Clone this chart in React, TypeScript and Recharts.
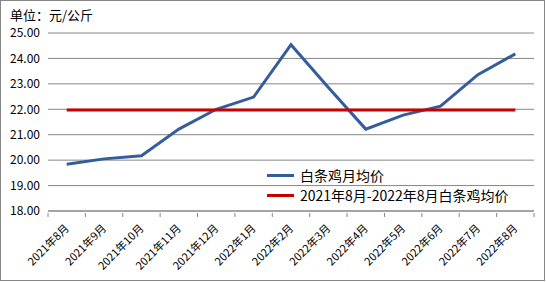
import { LineChart, Line, XAxis, YAxis, CartesianGrid } from "recharts";

// 白条鸡月均价（元/公斤），2021年8月—2022年8月
const months = [
  "2021年8月", "2021年9月", "2021年10月", "2021年11月", "2021年12月",
  "2022年1月", "2022年2月", "2022年3月", "2022年4月", "2022年5月",
  "2022年6月", "2022年7月", "2022年8月",
];
const monthlyPrice = [19.84, 20.05, 20.17, 21.22, 22.0, 22.48, 24.54, 22.86, 21.22, 21.77, 22.12, 23.36, 24.18];
const periodAvg = [21.97, 21.97, 21.97, 21.97, 21.97, 21.97, 21.97, 21.97, 21.97, 21.97, 21.97, 21.97, 21.97];
const yTicks = [18, 19, 20, 21, 22, 23, 24, 25];

const FONT = "'Noto Sans CJK SC', 'Noto Sans', sans-serif";
const BLUE = "#355c9d";
const RED = "#c80000";
const GRID = "#868686";

const data = months.map((m, i) => ({ month: m, price: monthlyPrice[i], avg: periodAvg[i] }));

function MonthTick(props: any) {
  const { x, y, payload, index } = props;
  const half = payload?.offset || 18.7;
  const ax = x + 3;
  const ay = y + 16;
  return (
    <g>
      <line x1={x - half} y1={y} x2={x - half} y2={y + 4} stroke={GRID} />
      {index === months.length - 1 && (
        <line x1={x + half} y1={y} x2={x + half} y2={y + 4} stroke={GRID} />
      )}
      <text
        x={ax}
        y={ay}
        textAnchor="end"
        fontSize={11}
        fill="#000"
        fontFamily={FONT}
        transform={`rotate(-45, ${ax}, ${ay})`}
      >
        {payload.value}
      </text>
    </g>
  );
}

// 图例放在绘图区内，不占布局空间
function LegendBox() {
  const rows = [
    { color: BLUE, label: "白条鸡月均价" },
    { color: RED, label: "2021年8月-2022年8月白条鸡均价" },
  ];
  return (
    <div
      style={{
        position: "absolute",
        left: 267,
        top: 165,
        fontFamily: FONT,
        fontSize: 14,
        color: "#000",
      }}
    >
      {rows.map((r) => (
        <div key={r.label} style={{ display: "flex", alignItems: "center", height: 20 }}>
          <span style={{ display: "inline-block", width: 27, height: 3, background: r.color, marginRight: 6 }} />
          <span style={{ whiteSpace: "nowrap" }}>{r.label}</span>
        </div>
      ))}
    </div>
  );
}

export default function App() {
  return (
    <div style={{ position: "relative", width: 546, height: 282, background: "#fff" }}>
      <style>{"body{margin:0}"}</style>
      <div
        style={{
          position: "absolute",
          left: 10,
          top: 5,
          fontFamily: FONT,
          fontSize: 13,
          color: "#000",
        }}
      >
        单位：元/公斤
      </div>
      <LineChart
        width={546}
        height={282}
        data={data}
        margin={{ top: 33, right: 12, bottom: 0, left: 0 }}
        style={{ position: "absolute", left: 0, top: 0 }}
      >
        <CartesianGrid vertical={false} stroke={GRID} />
        <XAxis
          dataKey="month"
          scale="band"
          interval={0}
          height={71}
          tickLine={false}
          tickSize={0}
          stroke={GRID}
          tick={<MonthTick />}
        />
        <YAxis
          domain={[18, 25]}
          ticks={yTicks}
          interval={0}
          width={48}
          axisLine={false}
          tickLine={false}
          tickSize={0}
          tickMargin={8}
          tickFormatter={(v: number) => v.toFixed(2)}
          tick={{ fontSize: 12, fill: "#000", fontFamily: FONT }}
        />
        <Line dataKey="price" stroke={BLUE} strokeWidth={3} dot={false} isAnimationActive={false} />
        <Line dataKey="avg" stroke={RED} strokeWidth={3} dot={false} isAnimationActive={false} />
      </LineChart>
      <LegendBox />
      <div
        style={{
          position: "absolute",
          left: 0,
          top: 0,
          width: 545,
          height: 281,
          boxSizing: "border-box",
          border: `1px solid ${GRID}`,
          pointerEvents: "none",
        }}
      />
    </div>
  );
}
